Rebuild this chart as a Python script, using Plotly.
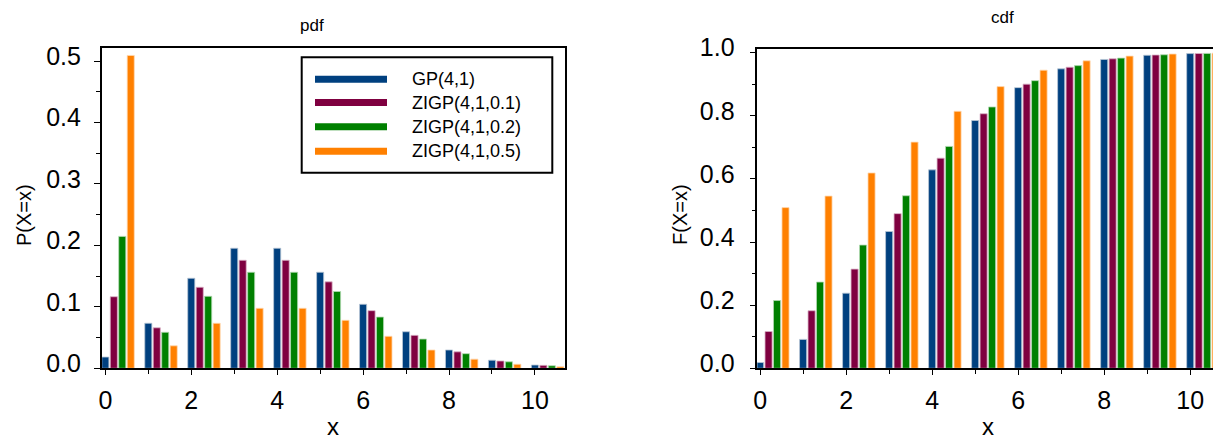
import plotly.graph_objects as go
from plotly.subplots import make_subplots

# support points
x_vals = [0, 1, 2, 3, 4, 5, 6, 7, 8, 9, 10]

series_names = ["GP(4,1)", "ZIGP(4,1,0.1)", "ZIGP(4,1,0.2)", "ZIGP(4,1,0.5)"]

# probability mass functions
pdf_gp = [0.0183, 0.0733, 0.1465, 0.1954, 0.1954, 0.1563, 0.1042, 0.0595, 0.0298, 0.0132, 0.0053]
pdf_zigp_01 = [0.1165, 0.0659, 0.1319, 0.1758, 0.1758, 0.1407, 0.0938, 0.0536, 0.0268, 0.0119, 0.0048]
pdf_zigp_02 = [0.2147, 0.0586, 0.1172, 0.1563, 0.1563, 0.1250, 0.0834, 0.0476, 0.0238, 0.0106, 0.0042]
pdf_zigp_05 = [0.5092, 0.0366, 0.0733, 0.0977, 0.0977, 0.0781, 0.0521, 0.0298, 0.0149, 0.0066, 0.0026]

# cumulative distribution functions
cdf_gp = [0.0183, 0.0916, 0.2381, 0.4335, 0.6288, 0.7851, 0.8893, 0.9489, 0.9786, 0.9919, 0.9972]
cdf_zigp_01 = [0.1165, 0.1824, 0.3143, 0.4901, 0.6659, 0.8066, 0.9004, 0.9540, 0.9808, 0.9927, 0.9975]
cdf_zigp_02 = [0.2147, 0.2733, 0.3905, 0.5468, 0.7031, 0.8281, 0.9114, 0.9591, 0.9829, 0.9935, 0.9978]
cdf_zigp_05 = [0.5092, 0.5458, 0.6190, 0.7167, 0.8144, 0.8926, 0.9447, 0.9744, 0.9893, 0.9959, 0.9986]

pdf_series = [pdf_gp, pdf_zigp_01, pdf_zigp_02, pdf_zigp_05]
cdf_series = [cdf_gp, cdf_zigp_01, cdf_zigp_02, cdf_zigp_05]

colors = ["#00407F", "#7F0040", "#008000", "#FF8000"]
edge_colors = ["#b9c6d6", "#d9b3c6", "#b3d9b3", "#ffd9b3"]
bar_shift = [0.0, 0.197, 0.394, 0.591]
bar_width = 0.165

FONT = "Liberation Sans, Arial, sans-serif"
W, H = 1213, 443


def px_x(p):
    return p / W


def px_y(p):
    return (H - p) / H


fig = make_subplots(rows=1, cols=2)

for i in range(4):
    for col, data in ((1, pdf_series[i]), (2, cdf_series[i])):
        fig.add_trace(
            go.Bar(
                x=x_vals,
                y=data,
                width=bar_width,
                offset=bar_shift[i] - bar_width / 2,
                marker=dict(color=colors[i], line=dict(color=edge_colors[i], width=0.8)),
                name=series_names[i],
                showlegend=False,
            ),
            row=1,
            col=col,
        )

axis_common = dict(
    automargin=False,
    showgrid=False,
    zeroline=False,
    showline=True,
    linecolor="black",
    linewidth=1.5,
    ticks="outside",
    tickcolor="black",
    tickwidth=1.2,
    tickfont=dict(family=FONT, size=25, color="black"),
)

fig.update_xaxes(
    **axis_common,
    tick0=0,
    dtick=2,
    ticklen=5,
    ticklabelstandoff=4,
    minor=dict(ticks="outside", dtick=1, tick0=0, ticklen=3.5, tickcolor="black", tickwidth=1.2),
)
fig.update_yaxes(**axis_common, tickformat=".1f", ticklen=6)

fig.update_layout(
    xaxis=dict(domain=[px_x(101.7), px_x(565)], range=[-0.085, 10.70], mirror=True, anchor="y"),
    yaxis=dict(
        domain=[px_y(368.3), px_y(48.3)],
        range=[0, 0.5208],
        dtick=0.1,
        mirror=True,
        ticklabelstandoff=8,
        ticklabelshift=-5,
        minor=dict(ticks="outside", dtick=0.05, ticklen=3.5, tickcolor="black", tickwidth=1.2),
    ),
    xaxis2=dict(domain=[px_x(757.3), 1.0], range=[-0.065, 10.53], mirror=True, anchor="y2"),
    yaxis2=dict(
        domain=[px_y(368.3), px_y(49.3)],
        range=[0, 1.0108],
        dtick=0.2,
        mirror=False,
        ticklabelstandoff=10,
        ticklabelshift=-5,
        minor=dict(ticks="outside", dtick=0.1, ticklen=3.5, tickcolor="black", tickwidth=1.2),
    ),
)

# legend panel inside the pdf plot: framed box, thick line keys and labels
legend_left, legend_right = 301.7, 552.3
legend_top, legend_bottom = 57.3, 172.7
key_x0, key_x1, label_x = 315, 387, 410
row_y = [79.3, 102.5, 126.7, 151.2]

shapes = [
    dict(type="rect", xref="paper", yref="paper",
         x0=px_x(legend_left), x1=px_x(legend_right),
         y0=px_y(legend_bottom), y1=px_y(legend_top),
         line=dict(color="black", width=2), fillcolor="white", layer="above"),
]
annotations = []
for i, name in enumerate(series_names):
    shapes.append(dict(type="line", xref="paper", yref="paper",
                       x0=px_x(key_x0), x1=px_x(key_x1),
                       y0=px_y(row_y[i]), y1=px_y(row_y[i]),
                       line=dict(color=colors[i], width=7), layer="above"))
    annotations.append(dict(text=name, x=px_x(label_x), y=px_y(row_y[i]),
                            xref="paper", yref="paper", xanchor="left", yanchor="middle",
                            showarrow=False, font=dict(family=FONT, size=18, color="black")))


def label(text, x, y, size, angle=0, yanchor="middle"):
    return dict(text=text, x=px_x(x), y=px_y(y), xref="paper", yref="paper",
                xanchor="center", yanchor=yanchor, textangle=angle,
                showarrow=False, font=dict(family=FONT, size=size, color="black"))


annotations += [
    label("pdf", 312, 25, 17),
    label("cdf", 1002, 17.5, 17),
    label("x", 333, 442, 24, yanchor="bottom"),
    label("x", 988, 442, 24, yanchor="bottom"),
    label("P(X=x)", 24, 215, 20, -90),
    label("F(X=x)", 680, 215, 20, -90),
]

fig.update_layout(
    width=W,
    height=H,
    margin=dict(l=0, r=0, t=0, b=0, pad=0, autoexpand=False),
    paper_bgcolor="white",
    plot_bgcolor="white",
    barmode="overlay",
    showlegend=False,
    font=dict(family=FONT, color="black"),
    shapes=shapes,
    annotations=annotations,
)

fig.write_html("out.html")
